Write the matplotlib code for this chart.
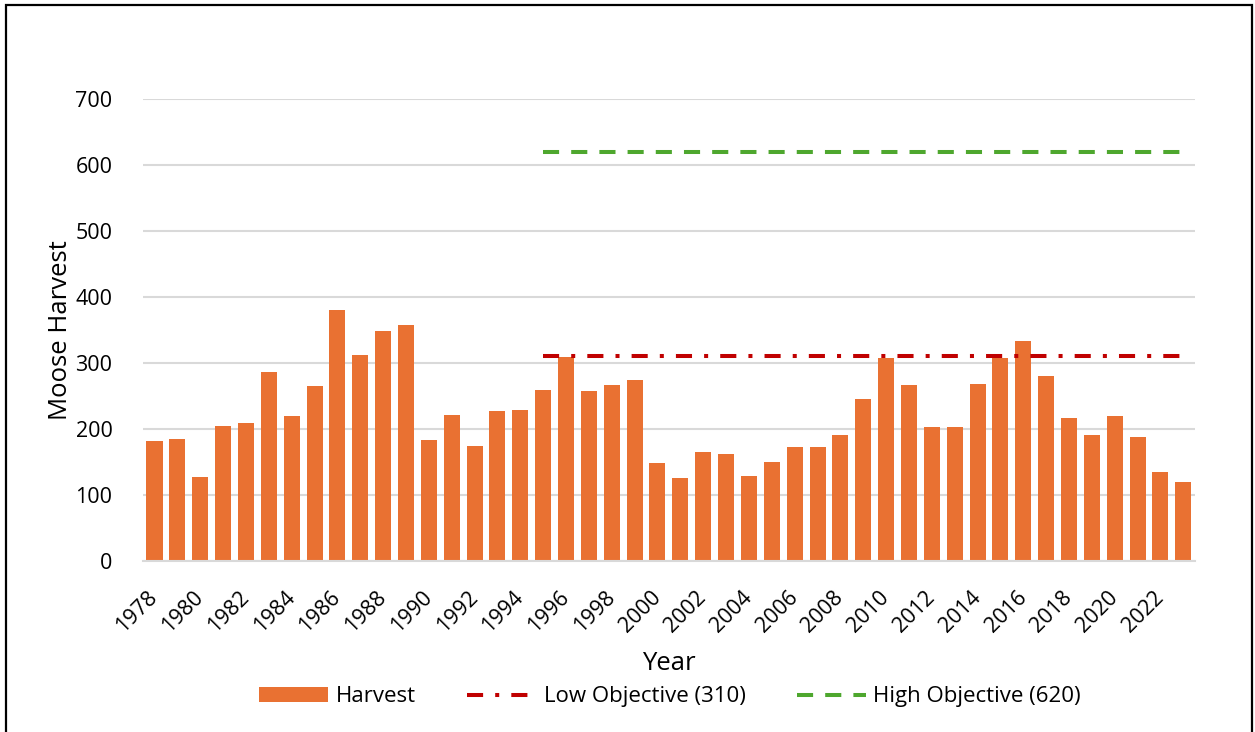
import matplotlib.pyplot as plt
import matplotlib.patches as patches
import numpy as np

plt.rcParams['font.family'] = ['Open Sans', 'DejaVu Sans']

# Moose harvest by year
years = list(range(1978, 2024))
harvest = [182, 185, 127, 204, 209, 286, 219, 265, 380, 312,
           348, 357, 183, 221, 174, 227, 229, 259, 309, 257,
           266, 274, 148, 126, 165, 162, 129, 150, 173, 173,
           191, 245, 307, 266, 203, 203, 268, 307, 333, 281,
           216, 191, 219, 188, 135, 120]

# Objectives run from 1995 to the last year
obj_start = 1995
low_objective = 310
high_objective = 620

bar_color = '#E97132'
low_color = '#C00000'
high_color = '#4EA72E'
grid_color = '#D9D9D9'

fig = plt.figure(figsize=(12.55, 7.32), dpi=100)
ax = fig.add_axes([0.114, 0.2336, 0.838, 0.6312])

x = np.arange(len(years))
bars = ax.bar(x, harvest, width=0.7, color=bar_color, label='Harvest', zorder=2)

obj_x = x[years.index(obj_start):]
low_line, = ax.plot(obj_x, [low_objective] * len(obj_x), color=low_color, lw=2.9,
                    dashes=(4, 3, 1, 3), dash_capstyle='butt', label='Low Objective (310)', zorder=3)
high_line, = ax.plot(obj_x, [high_objective] * len(obj_x), color=high_color, lw=2.9,
                     dashes=(4, 3), dash_capstyle='butt', label='High Objective (620)', zorder=3)

ax.set_xlim(-0.5, len(years) - 0.5)
ax.set_ylim(0, 700)
ax.set_yticks(range(0, 701, 100))
ax.yaxis.grid(True, color=grid_color, lw=1.5, zorder=0)
ax.set_axisbelow(True)

ax.set_xticks(x[::2])
ax.set_xticklabels([str(y) for y in years[::2]], rotation=45, ha='right',
                   va='center', rotation_mode='anchor')
ax.tick_params(axis='both', length=0, labelsize=15.5, colors='black')
ax.tick_params(axis='y', pad=22)
ax.tick_params(axis='x', pad=24)

for s in ['top', 'right', 'left']:
    ax.spines[s].set_visible(False)
ax.spines['bottom'].set_color(grid_color)
ax.spines['bottom'].set_linewidth(1.5)

ax.set_ylabel('Moose Harvest', fontsize=18.5, labelpad=2)
ax.set_xlabel('Year', fontsize=18.5, labelpad=10)

fig.legend([bars, low_line, high_line],
           ['Harvest', 'Low Objective (310)', 'High Objective (620)'],
           loc='center', bbox_to_anchor=(0.534, 0.048), ncol=3, frameon=False,
           fontsize=16, handlelength=3.1, columnspacing=2.3, handletextpad=0.35)

# outer border
fig.patches.append(patches.Rectangle((0.005, -0.05), 0.993, 1.043, transform=fig.transFigure,
                                     fill=False, edgecolor='black', lw=1.6))

fig.savefig('out.png', dpi=100)
